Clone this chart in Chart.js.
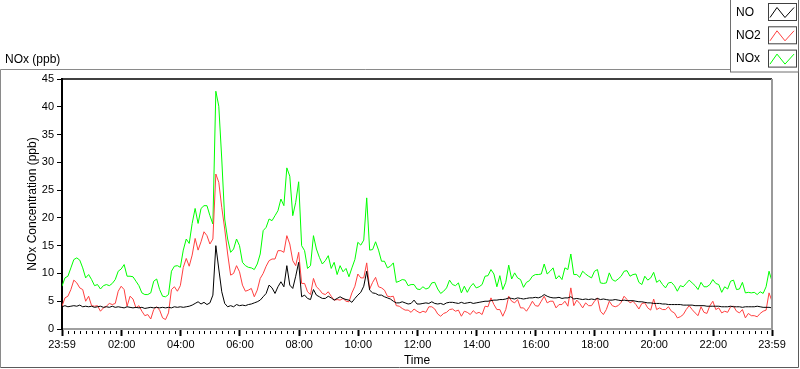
<!DOCTYPE html>
<html>
<head>
<meta charset="utf-8">
<title>NOx (ppb)</title>
<script src="https://cdn.jsdelivr.net/npm/chart.js@4.4.1/dist/chart.umd.min.js"></script>
<style>
  html, body { margin: 0; padding: 0; background: #fff; }
  canvas { display: block; }
</style>
</head>
<body>
<canvas id="noxChart" width="800" height="369"></canvas>
<script>
"use strict";
// one sample every 6 minutes, starting 23:59 the day before
const sampleStep = 6;

// x axis labels (minutes after 23:59)
const tickMinutes = [0, 121, 241, 361, 481, 601, 721, 841, 961, 1081, 1201, 1321, 1440];
const tickLabels = ["23:59", "02:00", "04:00", "06:00", "08:00", "10:00", "12:00",
  "14:00", "16:00", "18:00", "20:00", "22:00", "23:59"];

const seriesNames = ["NO", "NO2", "NOx"];
const seriesColors = ["#000000", "#ff4040", "#00ff00"];

// NO, ppb
const noValues = [
  4.0, 4.2, 4.0, 4.1, 4.2, 4.1, 4.3, 4.0, 4.1, 4.0,
  4.1, 3.9, 4.0, 4.1, 3.9, 4.0, 3.9, 4.1, 3.9, 4.0,
  3.9, 3.8, 4.0, 3.9, 3.8, 3.9, 3.8, 3.9, 3.7, 3.8,
  3.9, 3.8, 3.9, 3.8, 3.9, 3.8, 3.9, 3.8, 4.0, 3.9,
  4.0, 3.9, 4.0, 4.1, 4.3, 4.6, 4.9, 4.5, 4.8,
  4.4, 4.7, 6.1, 15.0, 10.8, 6.7, 4.6, 4.0, 4.2, 4.0,
  4.4, 4.2, 4.3, 4.2, 4.4, 4.5, 4.7, 4.9, 5.2, 5.8,
  6.4, 7.9, 7.4, 6.4, 7.6, 8.5, 7.6, 11.4, 7.9, 7.3,
  9.5, 12.0, 5.8, 6.1, 5.5, 5.3, 7.1, 6.1, 5.8, 5.5,
  5.5, 5.9, 5.6, 5.2, 5.5, 5.8, 5.5, 5.3, 5.2,
  4.8, 5.5, 6.1, 6.6, 7.7, 10.4, 7.0, 6.5, 6.4, 6.1,
  6.1, 5.8, 5.6, 5.4, 5.0, 4.7, 4.7, 4.9, 4.7, 4.5,
  4.6, 5.2, 4.5, 4.5, 4.6, 4.7, 4.6, 4.9, 4.6, 4.5,
  4.6, 4.4, 4.7, 4.8, 4.8, 4.7, 4.6, 4.8, 4.6, 4.7,
  4.8, 4.6, 4.7, 4.8, 4.9, 5.0, 5.0,
  5.1, 5.2, 5.2, 5.3, 5.3, 5.4, 5.6, 5.5, 5.4, 5.6,
  5.5, 5.4, 5.5, 5.6, 5.6, 5.7, 5.6, 5.8, 6.2, 5.9,
  5.7, 5.6, 5.6, 5.7, 5.5, 5.6, 5.6, 5.8, 5.4, 5.5,
  5.4, 5.3, 5.4, 5.3, 5.4, 5.3, 5.5, 5.3, 5.4, 5.3,
  5.2, 5.2, 5.3, 5.2, 5.1, 5.2, 5.1, 5.1,
  5.1, 5.0, 4.9, 4.9, 4.8, 4.7, 4.7, 4.6, 4.6, 4.6,
  4.5, 4.5, 4.4, 4.4, 4.4, 4.4, 4.4, 4.3, 4.3, 4.3,
  4.3, 4.2, 4.2, 4.2, 4.2, 4.1, 4.1, 4.1, 4.1, 4.1,
  4.0, 4.0, 4.0, 4.1, 4.0, 4.0, 4.0, 3.9, 4.0, 4.0,
  4.0, 4.0, 4.1, 4.0, 3.9, 3.9, 3.9, 3.8
];

// NO2, ppb
const no2Values = [
  4.1, 5.6, 5.9, 7.1, 8.8, 8.3, 7.4, 7.1, 5.0, 5.9,
  4.2, 4.1, 4.2, 3.2, 3.8, 4.1, 4.6, 4.4, 4.6, 6.8,
  7.7, 7.1, 4.1, 5.9, 5.4, 3.8, 4.2, 3.2, 2.4, 2.6,
  1.8, 3.5, 4.0, 3.4, 2.0, 1.7, 2.9, 7.1, 7.6, 6.8,
  7.8, 11.1, 12.7, 11.3, 13.3, 16.3, 14.2, 15.7, 17.5,
  16.8, 15.3, 16.2, 27.9, 26.4, 21.9, 18.0, 13.5, 9.7, 10.0,
  11.4, 10.3, 7.9, 6.8, 7.0, 7.3, 5.8, 7.0, 9.1, 10.0,
  11.3, 12.3, 12.6, 12.6, 14.1, 14.1, 13.8, 16.8, 15.3, 12.3,
  11.4, 13.8, 8.2, 8.2, 6.7, 6.2, 9.1, 7.6, 7.1, 6.4,
  6.2, 6.7, 5.9, 5.2, 5.3, 5.2, 5.5, 5.0, 4.9,
  6.5, 7.7, 9.9, 9.2, 9.2, 11.9, 7.2, 8.4, 9.3, 7.6,
  7.4, 7.0, 5.9, 5.8, 5.9, 4.2, 4.1, 3.7, 3.4, 3.4,
  3.0, 3.6, 3.2, 2.9, 3.2, 3.0, 4.0, 4.0, 3.6, 2.7,
  2.3, 2.8, 3.0, 3.5, 3.6, 3.2, 3.4, 2.3, 3.2, 3.0,
  2.6, 3.3, 2.8, 3.0, 2.6, 4.1, 4.0,
  5.6, 4.4, 3.5, 3.5, 2.3, 3.5, 5.9, 5.0, 4.7, 5.3,
  3.8, 3.8, 3.2, 4.0, 5.0, 4.2, 4.1, 5.0, 5.9, 4.7,
  5.0, 5.0, 3.8, 4.4, 4.4, 5.0, 4.1, 7.4, 4.2, 5.2,
  4.6, 3.8, 4.7, 4.2, 4.2, 5.0, 5.6, 3.2, 2.6, 3.5,
  5.0, 4.2, 4.0, 4.2, 4.8, 5.9, 5.3, 4.7,
  5.0, 4.4, 3.6, 4.6, 4.7, 3.8, 3.4, 5.4, 3.5, 3.8,
  3.5, 3.5, 4.0, 3.2, 2.9, 2.0, 2.2, 2.6, 3.5, 4.2,
  3.5, 2.9, 2.4, 4.0, 3.0, 2.8, 4.2, 5.0, 3.5, 3.8,
  2.9, 3.2, 3.0, 4.0, 4.1, 3.2, 2.9, 3.5, 2.0, 2.8,
  2.4, 2.4, 2.2, 2.8, 3.2, 3.4, 6.5, 5.0
];

// NOx, ppb
const noxValues = [
  7.7, 9.2, 9.5, 11.0, 12.5, 12.8, 12.4, 11.0, 9.2, 9.8,
  8.9, 7.8, 8.0, 7.2, 7.8, 8.0, 7.8, 8.2, 8.9, 10.4,
  10.8, 11.6, 9.5, 9.5, 9.4, 8.6, 7.8, 6.5, 6.2, 6.2,
  6.5, 8.6, 9.0, 7.1, 5.9, 5.8, 6.2, 10.4, 11.3, 11.4,
  11.1, 14.2, 16.2, 15.4, 19.0, 21.7, 19.0, 21.7, 22.2,
  22.2, 20.4, 18.9, 42.8, 40.1, 30.6, 19.8, 16.2, 13.8, 14.4,
  16.2, 15.0, 12.0, 11.4, 11.1, 11.0, 10.7, 11.7, 13.5, 17.7,
  18.3, 19.8, 19.5, 20.4, 21.3, 23.4, 22.2, 29.0, 27.5, 20.4,
  22.8, 26.5, 15.0, 14.1, 10.9, 11.4, 16.8, 14.4, 12.9, 11.7,
  12.3, 13.2, 10.9, 12.0, 9.8, 11.4, 10.3, 10.9, 9.4,
  11.0, 12.5, 15.6, 15.1, 16.0, 23.6, 14.2, 14.3, 15.7, 14.2,
  12.2, 12.2, 11.0, 11.3, 11.9, 8.4, 8.6, 8.9, 8.8, 7.8,
  8.0, 8.0, 7.2, 7.1, 7.6, 7.2, 7.4, 8.3, 8.4, 7.2,
  6.4, 6.8, 7.4, 8.8, 8.0, 7.8, 8.3, 6.5, 7.7, 6.6,
  7.6, 8.2, 7.4, 7.6, 8.0, 9.5, 9.6,
  10.7, 9.9, 7.6, 9.6, 7.1, 8.4, 11.5, 9.0, 10.1, 9.2,
  8.9, 7.5, 8.4, 8.7, 9.5, 9.8, 9.8, 9.9, 11.7, 9.9,
  10.4, 11.0, 9.0, 9.6, 8.9, 11.0, 10.7, 13.5, 9.8, 9.8,
  9.3, 10.4, 9.9, 9.5, 9.2, 10.4, 10.7, 8.3, 8.2, 8.3,
  10.1, 8.9, 8.6, 9.0, 9.5, 10.4, 10.5, 9.5,
  9.8, 9.9, 8.4, 8.0, 9.5, 8.8, 9.2, 10.2, 8.4, 8.8,
  8.0, 7.4, 8.3, 8.4, 7.8, 6.8, 7.8, 7.6, 8.2, 8.8,
  8.3, 7.8, 7.1, 8.4, 7.6, 7.6, 8.0, 8.9, 8.2, 8.0,
  6.6, 7.6, 7.2, 8.6, 8.8, 7.1, 7.2, 8.4, 6.5, 6.6,
  6.5, 6.6, 6.2, 6.7, 6.4, 7.6, 10.4, 8.6
];

const FONT = "'Liberation Sans', Arial, sans-serif";

// pair each value with its minute offset so the linear x scale can place it
function toPoints(values) {
  return values.map((v, i) => ({ x: i * sampleStep, y: v }));
}

// labview style frame, plot borders, minor ticks, caption and legend
const framePlugin = {
  id: "frame",
  beforeDraw(chart) {
    const ctx = chart.ctx;
    ctx.save();
    ctx.fillStyle = "#ffffff";
    ctx.fillRect(0, 0, chart.width, chart.height);
    // outer panel
    ctx.lineWidth = 1;
    ctx.strokeStyle = "#8a8a8a";
    ctx.beginPath();
    ctx.moveTo(0.5, 367.5);
    ctx.lineTo(0.5, 69.5);
    ctx.lineTo(731, 69.5);
    ctx.stroke();
    ctx.strokeStyle = "#5a5a5a";
    ctx.beginPath();
    ctx.moveTo(0.5, 367.5);
    ctx.lineTo(798.5, 367.5);
    ctx.lineTo(798.5, 72);
    ctx.stroke();
    // caption
    ctx.fillStyle = "#000";
    ctx.font = "12px " + FONT;
    ctx.textBaseline = "middle";
    ctx.textAlign = "left";
    ctx.fillText("NOx (ppb)", 5, 60);
    ctx.restore();
  },
  afterDraw(chart) {
    const ctx = chart.ctx;
    const area = chart.chartArea;
    const xScale = chart.scales.x;
    ctx.save();
    // top and right border of the plot area
    ctx.lineWidth = 1.5;
    ctx.strokeStyle = "#000";
    ctx.beginPath();
    ctx.moveTo(area.left, area.top);
    ctx.lineTo(area.right, area.top);
    ctx.stroke();
    ctx.strokeStyle = "#9a9a9a";
    ctx.lineWidth = 2;
    ctx.beginPath();
    ctx.moveTo(area.right, area.top);
    ctx.lineTo(area.right, area.bottom + 1);
    ctx.stroke();
    // minor ticks every 12 minutes
    ctx.strokeStyle = "#000";
    ctx.lineWidth = 1;
    for (let m = 13; m < 1440; m += 12) {
      if (tickMinutes.some(t => Math.abs(t - m) < 4)) continue;
      const px = Math.round(xScale.getPixelForValue(m)) + 0.5;
      ctx.beginPath();
      ctx.moveTo(px, area.bottom + 2);
      ctx.lineTo(px, area.bottom + 5);
      ctx.stroke();
    }
    // legend box
    ctx.fillStyle = "#fff";
    ctx.fillRect(731, 0, 68, 72);
    ctx.strokeStyle = "#6e6e6e";
    ctx.strokeRect(730.5, -0.5, 68, 72.5);
    ctx.font = "12px " + FONT;
    ctx.textBaseline = "middle";
    ctx.textAlign = "left";
    chart.data.datasets.forEach((ds, i) => {
      const top = 3.5 + i * 23.3;
      ctx.fillStyle = "#000";
      ctx.fillText(ds.label, 736, top + 9);
      ctx.strokeStyle = "#404040";
      ctx.lineWidth = 1;
      ctx.strokeRect(768.5, top, 28, 17);
      ctx.strokeStyle = ds.borderColor;
      ctx.beginPath();
      ctx.moveTo(770, top + 14);
      ctx.lineTo(777, top + 4);
      ctx.lineTo(785, top + 14);
      ctx.lineTo(794, top + 4);
      ctx.stroke();
    });
    ctx.restore();
  }
};

const ctx = document.querySelector("#noxChart");
new Chart(ctx, {
  type: "line",
  data: {
    datasets: [
      { label: seriesNames[0], data: toPoints(noValues), borderColor: seriesColors[0] },
      { label: seriesNames[1], data: toPoints(no2Values), borderColor: seriesColors[1] },
      { label: seriesNames[2], data: toPoints(noxValues), borderColor: seriesColors[2] }
    ]
  },
  options: {
    responsive: false,
    animation: false,
    devicePixelRatio: 1,
    layout: { padding: { left: 0, top: 79, right: 28, bottom: 0 } },
    elements: {
      point: { radius: 0 },
      line: { borderWidth: 1, tension: 0 }
    },
    plugins: {
      legend: { display: false },
      tooltip: { enabled: false },
      title: { display: false }
    },
    scales: {
      x: {
        type: "linear",
        min: 0,
        max: 1440,
        afterFit(scale) { scale.height = 40; },
        afterBuildTicks(scale) { scale.ticks = tickMinutes.map(v => ({ value: v })); },
        ticks: {
          autoSkip: false,
          maxRotation: 0,
          padding: 2,
          color: "#000",
          font: { family: FONT, size: 11 },
          callback: (value, index) => tickLabels[index]
        },
        grid: { drawOnChartArea: false, tickLength: 7, tickWidth: 2, tickColor: "#000" },
        border: { color: "#a0a0a0", width: 2 },
        title: {
          display: true,
          text: "Time",
          color: "#000",
          font: { family: FONT, size: 12 },
          padding: { top: 0, bottom: 1 }
        }
      },
      y: {
        min: 0,
        max: 45,
        afterFit(scale) { scale.width = 62; },
        ticks: {
          stepSize: 5,
          padding: 3,
          color: "#000",
          font: { family: FONT, size: 11 }
        },
        grid: { drawOnChartArea: false, tickLength: 5, tickWidth: 1, tickColor: "#000" },
        border: { color: "#000", width: 2 },
        title: {
          display: true,
          text: "NOx Concentration (ppb)",
          color: "#000",
          font: { family: FONT, size: 12 },
          padding: { top: 25, bottom: 0 }
        }
      }
    }
  },
  plugins: [framePlugin]
});
</script>
</body>
</html>
